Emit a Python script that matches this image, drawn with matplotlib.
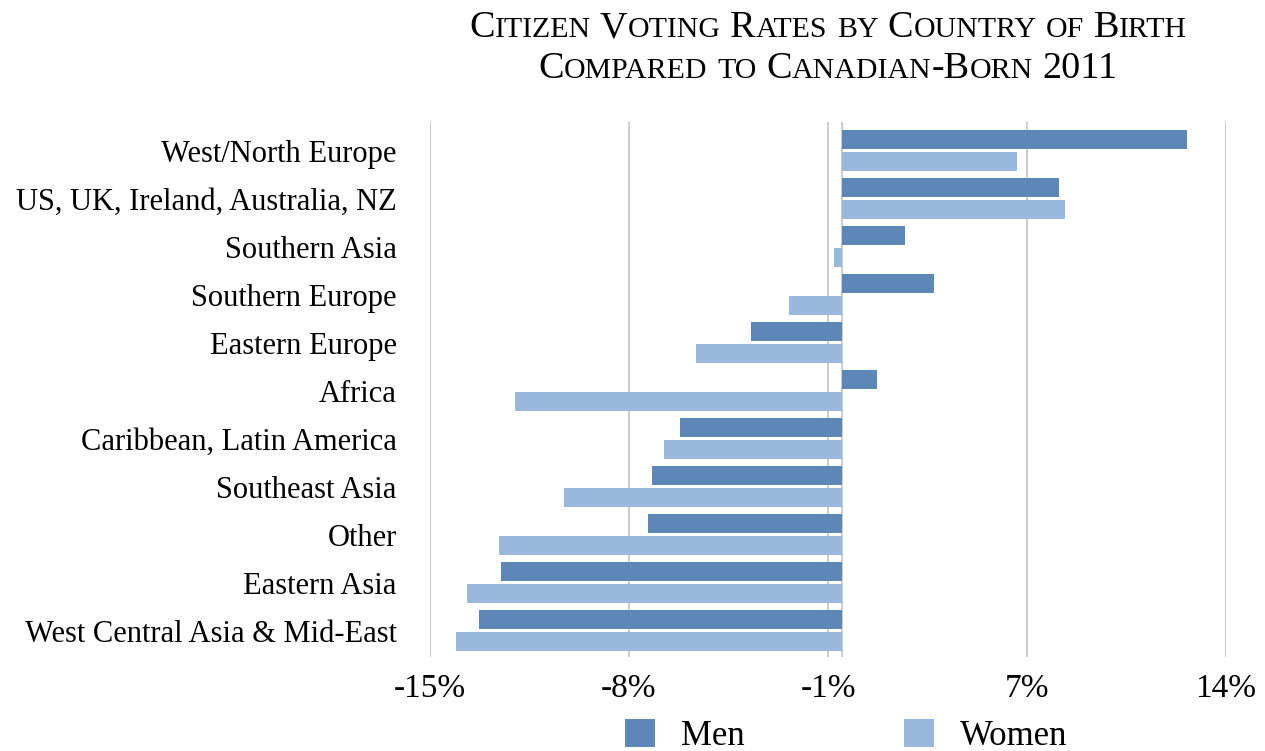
import matplotlib.pyplot as plt
import numpy as np

# data
countries = ["West/North Europe", "US, UK, Ireland, Australia, NZ", "Southern Asia",
             "Southern Europe", "Eastern Europe", "Africa", "Caribbean, Latin America",
             "Southeast Asia", "Other", "Eastern Asia", "West Central Asia & Mid-East"]
men = [12.57, 7.9, 2.3, 3.35, -3.3, 1.3, -5.9, -6.9, -7.07, -12.42, -13.2]
women = [6.37, 8.12, -0.28, -1.93, -5.32, -11.9, -6.48, -10.1, -12.5, -13.66, -14.06]
tick_vals = [-15, -7.75, -0.5, 6.75, 14]
tick_labels = ["-15%", "-8%", "-1%", "7%", "14%"]

men_color = "#5e87b9"
women_color = "#96b9dc"
grid_color = "#c4c4c4"
serif = "Liberation Serif"

W, H = 1265, 751
fig = plt.figure(figsize=(W / 100, H / 100), dpi=100)
ax = fig.add_axes([430 / W, 1 - 657 / H, (1226 - 430) / W, (657 - 122) / H])

y = np.arange(len(countries))
bh = 0.405
ax.barh(y - 0.229, men, height=bh, color=men_color, label="Men", zorder=3)
ax.barh(y + 0.229, women, height=bh, color=women_color, label="Women", zorder=3)

ax.set_xlim(-15, 14)
ax.set_ylim(len(countries) - 0.5 + 0.052, -0.5 - 0.094)
ax.set_xticks(tick_vals)
ax.set_xticklabels(tick_labels, fontsize=24, family=serif)
ax.set_yticks(y)
ax.set_yticklabels(countries, fontsize=22, family=serif)
ax.tick_params(axis="x", length=0, pad=12)
ax.tick_params(axis="y", length=0, pad=24)
ax.grid(axis="x", color=grid_color, linewidth=1.2, zorder=0)
ax.axvline(0, color=grid_color, linewidth=1.2, zorder=1)
for s in ax.spines.values():
    s.set_visible(False)

fig.legend(loc="center", bbox_to_anchor=(846 / W, 1 - 736 / H), ncol=2,
           frameon=False, prop={"family": serif, "size": 25},
           handlelength=0.86, handleheight=0.86, handletextpad=0.75, columnspacing=4.6)


# title in small caps, built from pieces
def small_caps_line(text, xc, ybase, big, small):
    r = fig.canvas.get_renderer()
    parts = []
    for i, word in enumerate(text.split(" ")):
        if i > 0:
            parts.append((None, big))
        run, run_small = "", None
        for ch in word:
            is_small = ch.islower()
            if run and is_small != run_small:
                parts.append((run.upper(), small if run_small else big))
                run = ""
            run += ch
            run_small = is_small
        parts.append((run.upper(), small if run_small else big))
    space = big * 100 / 72 * 0.25
    items = []
    total = 0
    for s, sz in parts:
        if s is None:
            items.append((None, space))
            total += space
            continue
        t = fig.text(0, ybase, s, fontsize=sz, family=serif, va="baseline")
        w = t.get_window_extent(r).width
        items.append((t, w))
        total += w
    x = xc - total / 2
    for t, w in items:
        if t is not None:
            t.set_x(x / W)
        x += w


small_caps_line("Citizen Voting Rates by Country of Birth", 828, 1 - 37 / H, 27.5, 21.5)
small_caps_line("Compared to Canadian-Born 2011", 828, 1 - 78 / H, 27.5, 21.5)

fig.savefig("out.png", dpi=100)
